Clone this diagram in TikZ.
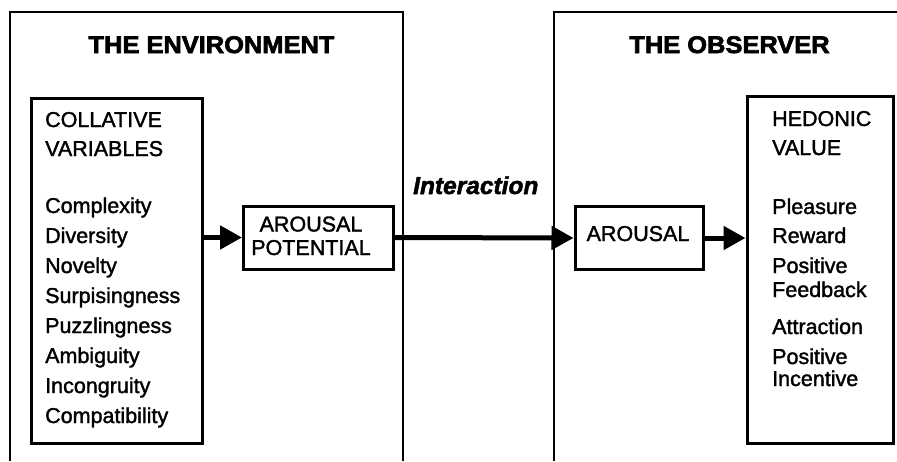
\documentclass[tikz,border=0pt]{standalone}
\usepackage{fontspec}
\setmainfont{Liberation Sans}
% heavier cuts of the same family, to get the dense printed look
\newfontfamily\bodyfont{Liberation Sans}[FakeBold=1.6]
\newfontfamily\heavyfont{Liberation Sans Bold}[FakeBold=2.8,FakeStretch=1.06]
\newfontfamily\heavyitfont{Liberation Sans Bold Italic}[FakeBold=2]
\usetikzlibrary{arrows.meta}
\begin{document}
\begin{tikzpicture}[x=1pt,y=-1pt,
  frame/.style={line width=2pt},
  box/.style={draw,line width=3pt,inner sep=0pt,anchor=north west},
  body/.style={inner sep=0pt,anchor=base west,font=\fontsize{21.5}{26}\bodyfont},
  centred/.style={body,anchor=base},
  heading/.style={inner sep=0pt,anchor=base,font=\fontsize{24}{28}\heavyfont},
  flow/.style={line width=5pt,-{Triangle[length=22pt,width=23pt]}}]
\useasboundingbox (0,0) rectangle (897,461);

% the two open frames
\draw[frame] (10,461) -- (10,11.5) -- (403,11.5) -- (403,461);
\draw[frame] (554,461) -- (554,11.5) -- (897,11.5);

\node[heading] (envtitle) at (211.5,53) {THE ENVIRONMENT};
\node[heading] (obstitle) at (729.5,53) {THE OBSERVER};

% boxes
\node[box,minimum width=171.5pt,minimum height=345.5pt] (colbox) at (29.5,96.5) {};
\node[box,minimum width=149.5pt,minimum height=63pt] (apbox) at (242,204.5) {};
\node[box,minimum width=128.5pt,minimum height=63pt] (arbox) at (573.5,205) {};
\node[box,minimum width=146pt,minimum height=347.5pt] (hedbox) at (745.5,94.5) {};

% collative variables
\node[body] (colh1) at (45,127) {COLLATIVE};
\node[body] (colh2) at (45,156) {VARIABLES};
\foreach \t/\yy [count=\i] in {Complexity/213,Diversity/243,Novelty/273,
    Surpisingness/303,Puzzlingness/333,Ambiguity/363,Incongruity/393,
    Compatibility/423}
  \node[body] (cv\i) at (45,\yy) {\t};

% arousal potential
\node[centred] (ap1) at (311,231.5) {AROUSAL};
\node[centred] (ap2) at (311,255) {POTENTIAL};

% arousal
\node[centred] (ar1) at (638,241) {AROUSAL};

% hedonic value
\node[body] (hedh1) at (772,126) {HEDONIC};
\node[body] (hedh2) at (772,155) {VALUE};
\foreach \t/\yy [count=\i] in {Pleasure/214,Reward/243,Positive/273,
    Feedback/297,Attraction/334,Positive/364,Incentive/386}
  \node[body] (hv\i) at (772,\yy) {\t};

% interaction label
\node[inner sep=0pt,anchor=base west,font=\fontsize{24.5}{28}\heavyitfont]
  (inter) at (413,194) {Interaction};

% connectors
\draw[flow] (colbox.east |- apbox.west) -- (apbox.west);
\draw[flow] (apbox.east) -- (arbox.west);
\draw[flow] (arbox.east) -- (arbox.east -| hedbox.west);
\end{tikzpicture}
\end{document}
